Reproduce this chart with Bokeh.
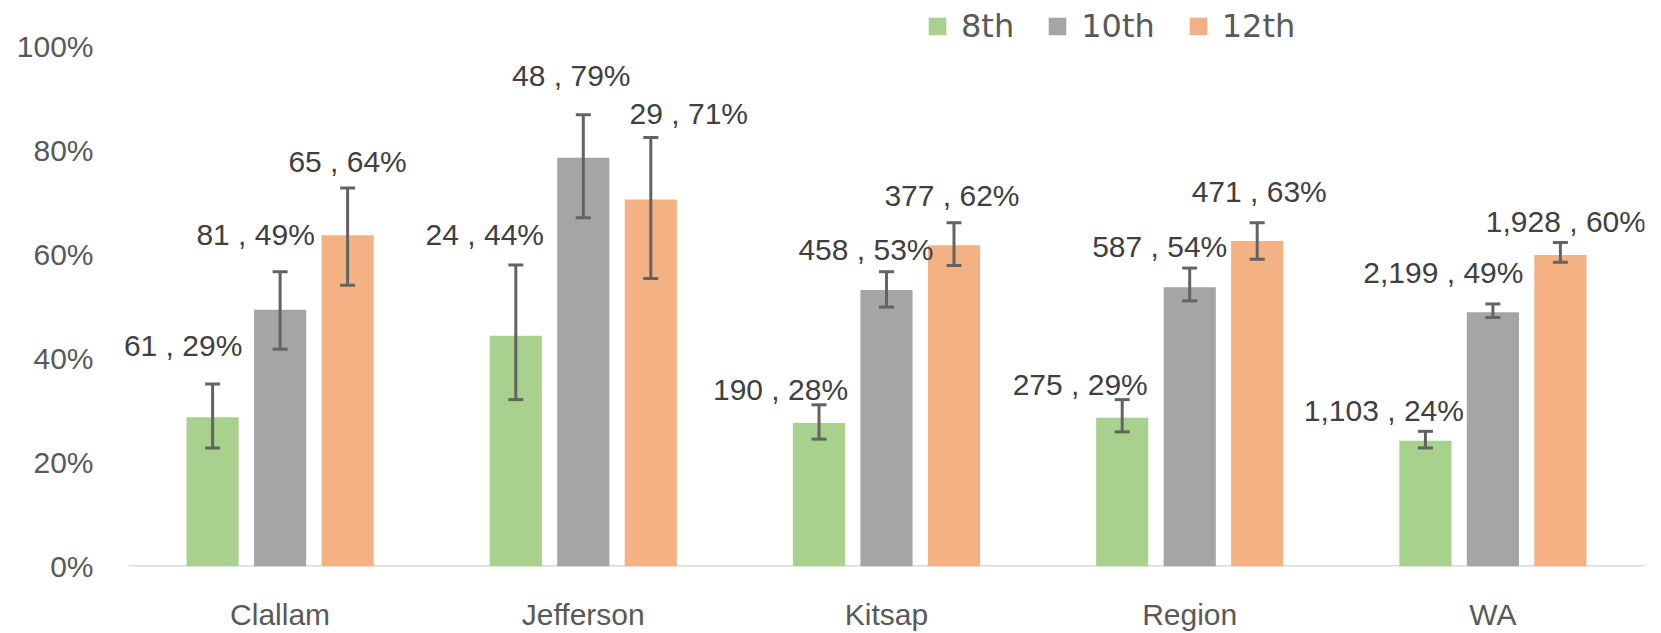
from bokeh.plotting import figure
from bokeh.models import (ColumnDataSource, Range1d, FixedTicker, NumeralTickFormatter,
                          Whisker, TeeHead, Legend, LegendItem, LabelSet)
from bokeh.core.properties import value
from bokeh.embed import file_html
from bokeh.resources import INLINE

# ---------------- data ----------------
categories = ["Clallam", "Jefferson", "Kitsap", "Region", "WA"]
grades = ["8th", "10th", "12th"]

pct_8th = [0.287, 0.444, 0.276, 0.286, 0.242]
pct_10th = [0.494, 0.786, 0.532, 0.537, 0.489]
pct_12th = [0.637, 0.706, 0.618, 0.626, 0.599]

n_8th = [61, 24, 190, 275, 1103]
n_10th = [81, 48, 458, 587, 2199]
n_12th = [65, 29, 377, 471, 1928]

lo_8th = [0.228, 0.321, 0.245, 0.259, 0.228]
hi_8th = [0.351, 0.580, 0.311, 0.321, 0.260]
lo_10th = [0.418, 0.671, 0.499, 0.511, 0.479]
hi_10th = [0.567, 0.869, 0.567, 0.574, 0.505]
lo_12th = [0.541, 0.554, 0.579, 0.591, 0.585]
hi_12th = [0.728, 0.825, 0.661, 0.661, 0.623]

y_ticks = [0, 0.2, 0.4, 0.6, 0.8, 1.0]

# ---------------- style ----------------
colors = {"8th": "#A9D18E", "10th": "#A5A5A5", "12th": "#F4B183"}
dodge = {"8th": -0.2226, "10th": 0.0, "12th": 0.2226}
# data-label placement (pixels) relative to the bar top
label_dx = {"8th": [-29.5, -31, -38.5, -42, -41.5],
            "10th": [-24.5, -12, -20.5, -30, -49.5],
            "12th": [0, 38, -2, 2, 5.5]}
label_dy = {"8th": [72, 101, 34, 33, 30],
            "10th": [75, 82, 40.5, 41, 40],
            "12th": [74, 86, 49.5, 50, 34]}

series = {
    "8th": (pct_8th, n_8th, lo_8th, hi_8th),
    "10th": (pct_10th, n_10th, lo_10th, hi_10th),
    "12th": (pct_12th, n_12th, lo_12th, hi_12th),
}

FONT = "Liberation Sans"
TXT = "#404040"
AX = "#595959"
ERR = "#636363"

W, H = 1661, 633
CAT_PX = 303.2          # pixel width of one category slot
LEFT = 100              # frame left edge (px); categories start at 128
x_start = -0.5 - (128 - LEFT) / CAT_PX

p = figure(width=W, height=H, output_backend="svg", toolbar_location=None,
           x_range=Range1d(x_start, 4.5), y_range=Range1d(0, 1.0887),
           min_border_left=LEFT, min_border_right=17, min_border_top=0,
           min_border_bottom=66)
p.outline_line_color = None
p.background_fill_color = "white"
p.border_fill_color = "white"
p.xgrid.grid_line_color = None
p.ygrid.grid_line_color = None

# category baseline (axis line) spanning the category slots only
p.segment(x0=[-0.5], x1=[len(categories) - 0.5], y0=[0], y1=[0],
          line_color="#D9D9D9", line_width=3)

legend_items = []
for g in grades:
    pct, n, lo, hi = series[g]
    xs = [i + dodge[g] for i in range(len(categories))]
    src = ColumnDataSource(dict(
        x=xs, top=pct, lower=lo, upper=hi,
        label=[f"{c:,} , {round(v * 100)}%" for c, v in zip(n, pct)],
        dx=label_dx[g], dy=label_dy[g],
    ))
    r = p.vbar(x="x", top="top", bottom=0, width=0.172, source=src,
               fill_color=colors[g], line_color=None)
    legend_items.append(LegendItem(label=g, renderers=[r]))
    w = Whisker(base="x", lower="lower", upper="upper", source=src, level="overlay",
                line_color=ERR, line_width=3,
                upper_head=TeeHead(size=15, line_color=ERR, line_width=3),
                lower_head=TeeHead(size=15, line_color=ERR, line_width=3))
    p.add_layout(w)
    labels = LabelSet(x="x", y="top", text="label", x_offset="dx", y_offset="dy",
                      source=src, level="overlay",
                      text_align="center", text_baseline="middle",
                      text_font=value(FONT), text_font_size=value("30px"),
                      text_color=TXT)
    p.add_layout(labels)

# x axis
p.xaxis.ticker = FixedTicker(ticks=list(range(len(categories))))
p.xaxis.major_label_overrides = {i: c for i, c in enumerate(categories)}
p.xaxis.axis_line_color = None
p.xaxis.major_tick_line_color = None
p.xaxis.minor_tick_line_color = None
p.xaxis.major_tick_out = 0
p.xaxis.major_tick_in = 0
p.xaxis.major_label_standoff = 31
p.xaxis.major_label_text_font = FONT
p.xaxis.major_label_text_font_size = "30px"
p.xaxis.major_label_text_color = AX

# y axis
p.yaxis.ticker = FixedTicker(ticks=y_ticks)
p.yaxis.formatter = NumeralTickFormatter(format="0%")
p.yaxis.axis_line_color = None
p.yaxis.major_tick_line_color = None
p.yaxis.minor_tick_line_color = None
p.yaxis.major_tick_out = 0
p.yaxis.major_tick_in = 0
p.yaxis.major_label_standoff = 7
p.yaxis.major_label_text_font = FONT
p.yaxis.major_label_text_font_size = "30px"
p.yaxis.major_label_text_color = AX

legend = Legend(items=legend_items, orientation="horizontal",
                location=(926 - LEFT, 521),
                glyph_width=22, glyph_height=22, label_standoff=13, spacing=32,
                padding=0, margin=0, border_line_color=None, background_fill_alpha=0,
                label_text_font="DejaVu Sans", label_text_font_size="32px",
                label_text_color=AX)
p.add_layout(legend)

open("out.html", "w").write(file_html(p, INLINE))
